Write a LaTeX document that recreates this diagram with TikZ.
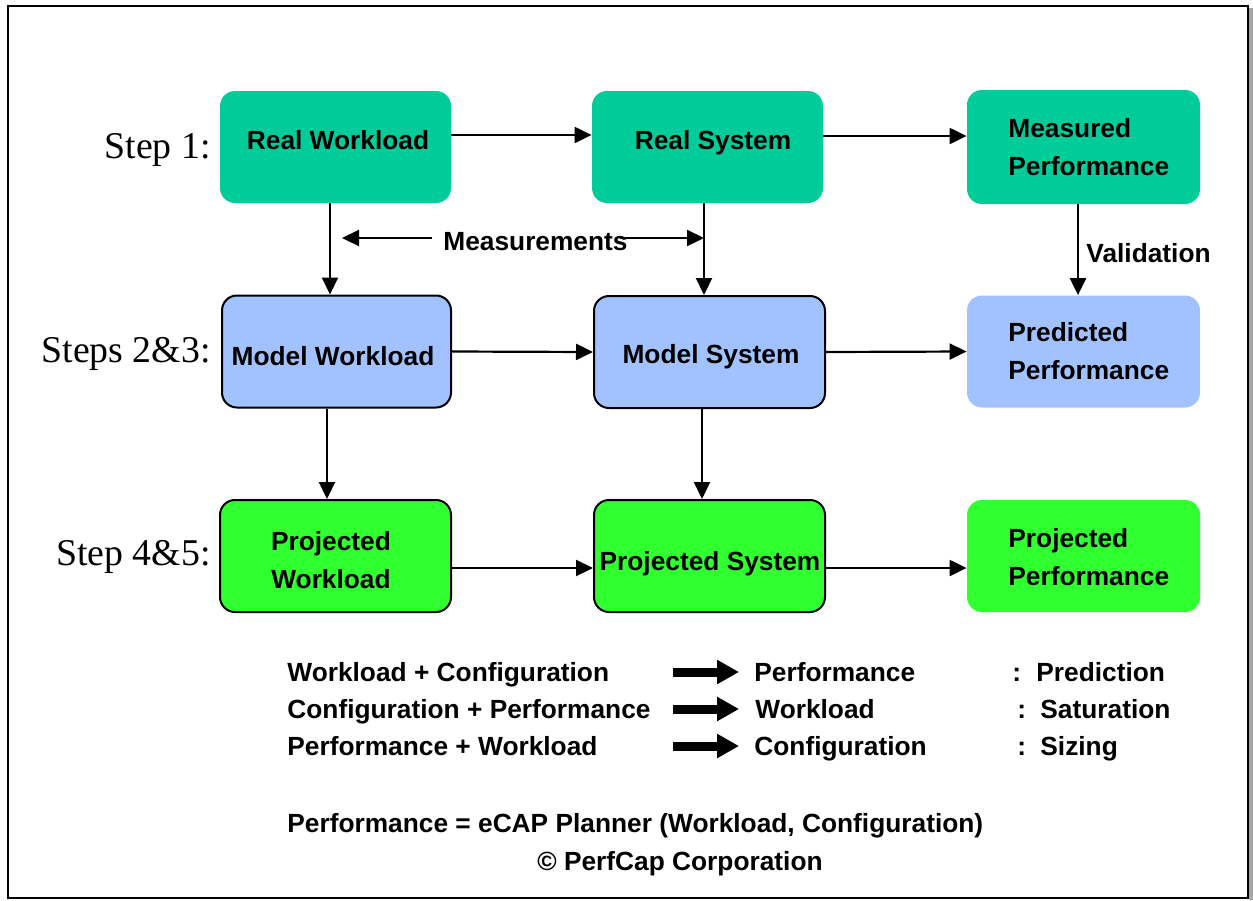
\documentclass[tikz,border=0pt]{standalone}
\usepackage{fontspec}
\setmainfont{Liberation Serif}
\setsansfont{Liberation Sans}
\usetikzlibrary{arrows.meta}
\definecolor{tealbox}{RGB}{0,204,153}
\definecolor{bluebox}{RGB}{162,193,255}
\definecolor{greenbox}{RGB}{48,255,48}
\begin{document}
\begin{tikzpicture}[x=0.5pt,y=-0.5pt,
  box/.style={rounded corners=7.5pt, minimum width=115.5pt, minimum height=56pt, inner sep=0pt},
  realbox/.style={box, fill=tealbox},
  modelbox/.style={box, fill=bluebox},
  projbox/.style={box, fill=greenbox},
  bordered/.style={draw=black, line width=1pt},
  txt/.style={font=\sffamily\bfseries\fontsize{13.15}{19}\selectfont, inner sep=0pt},
  steplab/.style={font=\fontsize{18.9}{22}\selectfont, inner sep=0pt, anchor=base east},
  conn/.style={line width=1.1pt, -{Triangle[length=8.5pt,width=8pt]}},
  bigarrow/.style={line width=4.5pt, -{Triangle[length=11pt,width=11.5pt]}},
]
\useasboundingbox (0,0) rectangle (1253,900);
% frame
\fill[gray!70] (1249,8) rectangle (1253,900);
\draw[line width=1pt] (8,6) rectangle (1248,898);

% boxes
\node[realbox] (RW) at (335.5,147) {};
\node[realbox] (RS) at (707.5,147) {};
\node[realbox, minimum width=116.5pt, minimum height=57pt] (MP) at (1083.5,147) {};
\node[modelbox, bordered, minimum width=114.5pt] (MW) at (336.5,351.5) {};
\node[modelbox, bordered] (MS) at (709.5,352) {};
\node[modelbox, minimum width=116.5pt] (PP) at (1083.5,351.5) {};
\node[projbox, bordered] (PW) at (335.5,556) {};
\node[projbox, bordered] (PS) at (709.5,556) {};
\node[projbox, minimum width=116.5pt] (PJ) at (1083.5,556) {};

% box texts
\node[txt, anchor=base] (tRW) at (338,149) {Real Workload};
\node[txt, anchor=base] (tRS) at (713,149) {Real System};
\node[txt, anchor=base west] (tMP1) at (1008,137) {Measured};
\node[txt, anchor=base west] (tMP2) at (1008,175) {Performance};
\node[txt, anchor=base] (tMW) at (333,365) {Model Workload};
\node[txt, anchor=base] (tMS) at (711,363) {Model System};
\node[txt, anchor=base west] (tPP1) at (1008,341) {Predicted};
\node[txt, anchor=base west] (tPP2) at (1008,379) {Performance};
\node[txt, anchor=base] (tPW1) at (331,550) {Projected};
\node[txt, anchor=base] (tPW2) at (331,588) {Workload};
\node[txt, anchor=base] (tPS) at (710,570) {Projected System};
\node[txt, anchor=base west] (tPJ1) at (1008,547) {Projected};
\node[txt, anchor=base west] (tPJ2) at (1008,585) {Performance};

% step labels
\node[steplab] (s1) at (211,158) {Step 1:};
\node[steplab] (s2) at (211,362) {Steps 2\&3:};
\node[steplab] (s3) at (211,565) {Step 4\&5:};

% horizontal connectors
\draw[conn] ([yshift=6pt]RW.east) -- ([yshift=6pt]RS.west);
\draw[conn] ([yshift=5.5pt]RS.east) -- ([yshift=5.5pt]MP.west);
\draw[conn] (MW.east) -- (MS.west);
\draw[conn] (MS.east) -- (PP.west);
\draw[conn] ([yshift=-6pt]PW.east) -- ([yshift=-6pt]PS.west);
\draw[conn] ([yshift=-6pt]PS.east) -- ([yshift=-6pt]PJ.west);

% vertical connectors
\draw[conn] (RW.south -| 330,0) -- (MW.north -| 330,0);
\draw[conn] (RS.south -| 704,0) -- (MS.north -| 704,0);
\draw[conn] (MP.south -| 1078,0) -- (PP.north -| 1078,0);
\draw[conn] (MW.south -| 327,0) -- (PW.north -| 327,0);
\draw[conn] (MS.south -| 702,0) -- (PS.north -| 702,0);

% measurements
\node[txt, anchor=base west] (meas) at (443,250) {Measurements};
\coordinate (mL1) at (432,238);
\coordinate (mL2) at (342,238);
\coordinate (mR1) at (620,238);
\coordinate (mR2) at (704,238);
\draw[conn] (mL1) -- (mL2);
\draw[conn] (mR1) -- (mR2);
\node[txt, anchor=base west] (valid) at (1086,262) {Validation};

% legend
\node[txt, anchor=base west] (l1a) at (287,681) {Workload + Configuration};
\node[txt, anchor=base west] (l2a) at (287,718) {Configuration + Performance};
\node[txt, anchor=base west] (l3a) at (287,755) {Performance + Workload};
\coordinate (a1s) at (673,672); \coordinate (a1e) at (739,672);
\coordinate (a2s) at (673,709); \coordinate (a2e) at (739,709);
\coordinate (a3s) at (673,746); \coordinate (a3e) at (739,746);
\draw[bigarrow] (a1s) -- (a1e);
\draw[bigarrow] (a2s) -- (a2e);
\draw[bigarrow] (a3s) -- (a3e);
\node[txt, anchor=base west] (l1b) at (754,681) {Performance};
\node[txt, anchor=base west] (l2b) at (755,718) {Workload};
\node[txt, anchor=base west] (l3b) at (754,755) {Configuration};
\node[txt, anchor=base west] (l1c) at (1012,681) {:};
\node[txt, anchor=base west] (l2c) at (1017,718) {:};
\node[txt, anchor=base west] (l3c) at (1017,755) {:};
\node[txt, anchor=base west] (l1d) at (1036,681) {Prediction};
\node[txt, anchor=base west] (l2d) at (1040,718) {Saturation};
\node[txt, anchor=base west] (l3d) at (1040,755) {Sizing};

\node[txt, anchor=base west] (form) at (287,832) {Performance = eCAP Planner (Workload, Configuration)};
\node[txt, anchor=base] (copy) at (680,870) {© PerfCap Corporation};
\end{tikzpicture}
\end{document}
